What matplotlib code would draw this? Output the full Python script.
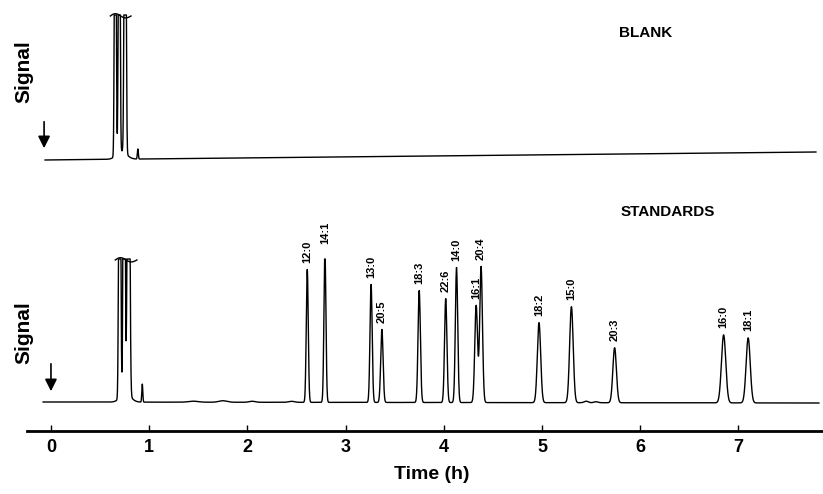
import numpy as np
import matplotlib
matplotlib.use("Agg")
import matplotlib.pyplot as plt

plt.rcParams['font.family'] = ['Liberation Sans', 'DejaVu Sans']

# standards peaks: name, retention time (h), height (signal units), sigma (h)
std_names = ['12:0', '14:1', '13:0', '20:5', '18:3', '22:6', '14:0',
             '16:1', '20:4', '18:2', '15:0', '20:3', '16:0', '18:1']
std_times = [2.61, 2.79, 3.26, 3.37, 3.75, 4.02, 4.13,
             4.33, 4.38, 4.97, 5.30, 5.74, 6.85, 7.10]
std_heights = [133, 152, 118, 73, 112, 104, 135,
               97, 136, 80, 96, 55, 68, 65]
std_sigmas = [0.010, 0.010, 0.011, 0.012, 0.012, 0.012, 0.012,
              0.014, 0.014, 0.017, 0.018, 0.018, 0.022, 0.021]

# solvent front + small baseline bumps (standards run)
std_solv_times = [0.70, 0.745, 0.79, 0.76, 0.93, 1.45, 1.75, 2.05, 2.45, 5.45, 5.55]
std_solv_heights = [600, 600, 600, 9, 18, 1, 1.5, 1, 1, 1.5, 1]
std_solv_sigmas = [0.008, 0.008, 0.010, 0.05, 0.005, 0.05, 0.04, 0.03, 0.03, 0.02, 0.02]
std_clip = 172
std_base_t = [-0.08, 7.82]
std_base_y = [29, 28]

# blank run
blank_times = [0.655, 0.695, 0.755, 0.72, 0.885]
blank_heights = [600, 600, 600, 8, 10]
blank_sigmas = [0.007, 0.007, 0.008, 0.05, 0.005]
blank_clip = 416
blank_base_t = [-0.06, 7.79]
blank_base_y = [271, 279]


def trace(t, base_t, base_y, times, heights, sigmas, clip=None):
    y = np.zeros_like(t)
    for mu, h, s in zip(times, heights, sigmas):
        y += h * np.exp(-0.5 * ((t - mu) / s) ** 2)
    if clip is not None:
        y = np.minimum(y, clip - np.interp(t, base_t, base_y))
    return y + np.interp(t, base_t, base_y)


fig = plt.figure(figsize=(8.23, 4.94), dpi=100)
ax = fig.add_axes([27 / 823, 63 / 494, 796 / 823, 431 / 494])

t_std = np.linspace(std_base_t[0], std_base_t[1], 6000)
y_std = trace(t_std, std_base_t, std_base_y,
              std_times + std_solv_times, std_heights + std_solv_heights,
              std_sigmas + std_solv_sigmas, clip=std_clip)
ax.plot(t_std, y_std, color='black', lw=1.0)

t_bl = np.linspace(blank_base_t[0], blank_base_t[1], 6000)
y_bl = trace(t_bl, blank_base_t, blank_base_y,
             blank_times, blank_heights, blank_sigmas, clip=blank_clip)
ax.plot(t_bl, y_bl, color='black', lw=1.0)

# off-scale squiggles on top of the solvent peaks
sq = np.linspace(0, 1, 50)
ax.plot(0.655 + 0.22 * sq, std_clip + 2.5 * np.sin(np.pi * 2 * sq) * (1 - sq * 0.3) - 1,
        color='black', lw=1.0)
ax.plot(0.605 + 0.21 * sq, blank_clip + 2.5 * np.sin(np.pi * 2 * sq) * (1 - sq * 0.3) - 1,
        color='black', lw=1.0)

# peak labels
for name, t0, h in zip(std_names, std_times, std_heights):
    ax.annotate(name, xy=(t0, h + std_base_y[0]), xytext=(0, 4),
                textcoords='offset points', rotation=90, ha='center', va='bottom',
                fontsize=8, fontweight='bold')

# injection arrows
ax.annotate('', xy=(0, 37), xytext=(0, 70),
            arrowprops=dict(arrowstyle='-|>', color='black', lw=1.2, mutation_scale=18))
ax.annotate('', xy=(-0.07, 280), xytext=(-0.07, 312),
            arrowprops=dict(arrowstyle='-|>', color='black', lw=1.2, mutation_scale=18))

ax.set_xlim(-0.244, 7.862)
ax.set_ylim(0, 431)
for s in ['left', 'right', 'top']:
    ax.spines[s].set_visible(False)
ax.spines['bottom'].set_linewidth(2)
ax.set_yticks([])
ax.set_xticks(range(8))
ax.tick_params(axis='x', direction='in', length=4, width=1, pad=6, labelsize=13)
for lab in ax.get_xticklabels():
    lab.set_fontweight('bold')
ax.set_xlabel('Time (h)', fontsize=14, fontweight='bold')
ax.xaxis.set_label_coords((432 - 27) / 796, -(474 - 431) / 431, transform=ax.transAxes)
ax.xaxis.label.set_va('center')

fig.text(24 / 823, 1 - 333 / 494, 'Signal', rotation=90, ha='center', va='center',
         fontsize=15, fontweight='bold')
fig.text(24 / 823, 1 - 72 / 494, 'Signal', rotation=90, ha='center', va='center',
         fontsize=15, fontweight='bold')
fig.text(646 / 823, 1 - 33 / 494, 'BLANK', ha='center', va='center',
         fontsize=11, fontweight='bold')
fig.text(668 / 823, 1 - 212 / 494, 'STANDARDS', ha='center', va='center',
         fontsize=11, fontweight='bold')

fig.savefig('out.png', dpi=100)
